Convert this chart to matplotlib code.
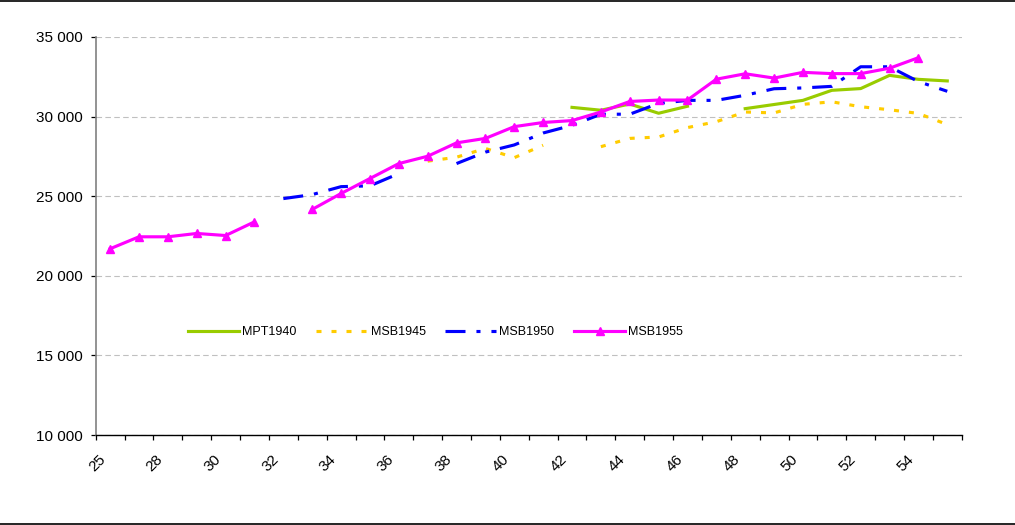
import matplotlib
matplotlib.use("Agg")
import matplotlib.pyplot as plt
from matplotlib.lines import Line2D
from matplotlib.ticker import FuncFormatter
from matplotlib.transforms import ScaledTranslation
import numpy as np

nan = np.nan

categories = ["25", "27", "28", "29", "30", "31", "32", "33", "34", "35",
              "36", "37", "38", "39", "40", "41", "42", "43", "44", "45",
              "46", "47", "48", "49", "50", "51", "52", "53", "54", "55"]

mpt1940 = [nan, nan, nan, nan, nan, nan, nan, nan, nan, nan,
           nan, nan, nan, nan, nan, nan, 30580, 30400, 30790, 30210,
           30650, nan, 30500, 30760, 31020, 31650, 31760, 32590, 32340, 32240]

msb1945 = [nan, nan, nan, nan, nan, nan, nan, nan, nan, nan,
           nan, 27200, 27450, 28000, 27420, 28200, nan, 28110, 28630, 28720,
           29310, 29680, 30290, 30230, 30770, 30930, 30620, 30430, 30200, 29500]

msb1950 = [nan, nan, nan, nan, nan, nan, 24850, 25100, 25600, 25650,
           26420, nan, 27050, 27770, 28220, 28970, 29450, 30150, 30150, 30830,
           31020, 31020, 31340, 31750, 31800, 31900, 33130, 33130, 32200, 31590]

msb1955 = [21700, 22450, 22450, 22660, 22530, 23390, nan, 24170, 25170, 26110,
           27050, 27510, 28350, 28630, 29370, 29630, 29750, 30290, 30950, 31040,
           31040, 32350, 32690, 32420, 32780, 32700, 32700, 33040, 33700, nan]

plt.rcParams['font.family'] = ['Liberation Sans', 'DejaVu Sans']

W, H = 1015, 525
fig = plt.figure(figsize=(W / 100, H / 100), dpi=100)
x0, x1, yt, yb = 95.7, 961.7, 37, 435
ax = fig.add_axes([x0 / W, 1 - yb / H, (x1 - x0) / W, (yb - yt) / H])

x = np.arange(len(categories))
lw = 2.25
ax.plot(x, mpt1940, color='#99CC00', lw=lw, label='MPT1940', zorder=3)
ax.plot(x, msb1945, color='#FFCC00', lw=lw, linestyle=(0, (1.6, 3.2)),
        dash_capstyle='butt', label='MSB1945', zorder=4)
ax.plot(x, msb1950, color='#0000FF', lw=lw, linestyle=(0, (6.4, 3.5, 1.3, 3.5)),
        dash_capstyle='butt', label='MSB1950', zorder=5)
ax.plot(x, msb1955, color='#FF00FF', lw=lw, marker='^', ms=5.5,
        markeredgecolor='#FF00FF', label='MSB1955', zorder=6)

ax.set_xlim(-0.5, len(categories) - 0.5)
ax.set_ylim(10000, 35000)
ax.set_yticks(np.arange(10000, 35001, 5000))
ax.yaxis.set_major_formatter(FuncFormatter(lambda v, p: f"{int(v):,}".replace(",", " ")))

ax.set_axisbelow(True)
ax.yaxis.grid(True, color='#C0C0C0', linestyle=(0, (5, 3)), lw=0.8)

for s in ['top', 'right']:
    ax.spines[s].set_visible(False)
ax.spines['left'].set_color('#808080')
ax.spines['left'].set_linewidth(1.2)
ax.spines['bottom'].set_color('black')
ax.spines['bottom'].set_linewidth(1.0)

ax.tick_params(axis='y', direction='out', length=3.8, width=0.9, color='black',
               pad=5.5, labelsize=11)

major_idx = list(range(0, len(categories), 2))
ax.set_xticks(major_idx)
ax.set_xticks(np.arange(-0.5, len(categories), 1), minor=True)
ax.tick_params(axis='x', which='major', length=0, pad=16, labelsize=11)
ax.tick_params(axis='x', which='minor', direction='out', length=3.8, width=0.9,
               color='black')
ax.set_xticklabels([categories[i] for i in major_idx], rotation=45, ha='right',
                   va='center', rotation_mode='anchor', fontsize=11)
shift = ScaledTranslation(-7 / 100, 0, fig.dpi_scale_trans)
for lab in ax.get_xticklabels():
    lab.set_transform(lab.get_transform() + shift)

ax.legend(loc='center left', bbox_to_anchor=((188 - x0) / (x1 - x0), (yb - 332) / (yb - yt)),
          ncol=4, frameon=False, fontsize=9, handlelength=4.1, handletextpad=0.25,
          columnspacing=1.56, borderpad=0, borderaxespad=0)

for yy in [1 - 1.0 / H, 1 - 524.0 / H]:
    fig.add_artist(Line2D([0, 1], [yy, yy], transform=fig.transFigure,
                          color='black', lw=1.2))

fig.savefig('out.png', dpi=100)
